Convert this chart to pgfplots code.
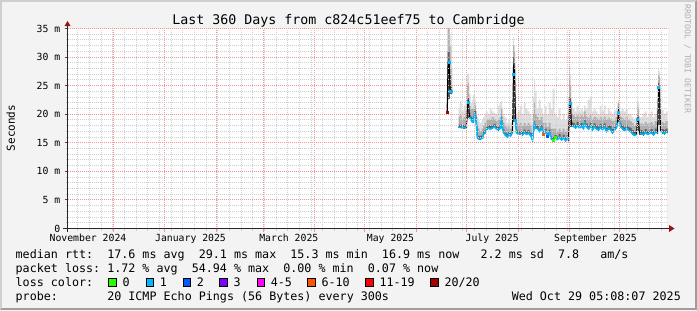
\documentclass[border=0pt]{standalone}
\usepackage{fontspec}
\setmainfont{DejaVu Sans Mono}
\usepackage{pgfplots}
\pgfplotsset{compat=1.18}
\usepackage{pgfplotstable}

\definecolor{shadeA}{RGB}{207,207,207}
\definecolor{shadeB}{RGB}{158,158,158}
\definecolor{backc}{RGB}{243,243,243}
\definecolor{mgrid}{RGB}{240,150,150}
\definecolor{ngrid}{RGB}{208,208,208}
\definecolor{arrowc}{RGB}{150,20,20}
\definecolor{smokeL}{RGB}{222,222,222}
\definecolor{smokeM}{RGB}{175,175,175}
\definecolor{smokeD}{RGB}{95,95,95}
\definecolor{loss0}{HTML}{26FF00}
\definecolor{loss1}{HTML}{00B8FF}
\definecolor{loss2}{HTML}{0059FF}
\definecolor{loss3}{HTML}{7E00FF}
\definecolor{loss4}{HTML}{FF00FF}
\definecolor{loss6}{HTML}{FF5500}
\definecolor{loss11}{HTML}{FF0000}
\definecolor{loss20}{HTML}{A10000}
\definecolor{wmark}{RGB}{175,175,175}

\newcommand\titlefont{\fontsize{13.3bp}{15bp}\selectfont\frenchspacing}
\newcommand\legfont{\fontsize{11.7bp}{13bp}\selectfont\frenchspacing}
\newcommand\tickfont{\fontsize{9.8bp}{11bp}\selectfont\frenchspacing}
\newcommand\unitfont{\fontsize{11bp}{12bp}\selectfont\frenchspacing}
\newcommand\wmfont{\fontsize{8.2bp}{9bp}\selectfont\frenchspacing}

% days since start of graph (Nov 3 2024), median and smoke bands in ms
\pgfplotstableread{
x     med  dlo  dhi  mhi  lhi  cy
227.8 20.4 20.3 20.9 21.2 21.5 nan
228.4 29.1 22.6 31.0 35.5 36.0 nan
229.0 29.1 22.6 31.0 35.5 36.0 nan
229.6 24.1 22.6 27.0 32.0 34.0 nan
230.2 24.1 23.5 25.0 28.0 32.0 nan
230.8 24.1 23.5 25.0 28.0 32.0 nan
}\segA

\pgfplotstableread{
x     med  dlo  dhi  mhi  lhi  cy
234.6 17.7 17.4 18.2 19.5 21.0 17.7
235.8 17.7 17.4 18.2 19.8 22.4 17.7
237.0 17.6 17.3 18.1 19.2 20.5 17.6
238.2 17.6 17.3 18.1 19.5 21.5 17.6
239.4 17.7 17.4 18.3 20.5 22.4 17.7
240.0 21.5 17.5 22.5 25.0 27.0 nan
240.6 22.1 19.0 23.0 25.5 27.1 nan
241.2 19.5 19.2 20.2 21.5 23.5 19.5
242.4 18.9 18.6 19.6 21.0 22.0 18.9
243.0 18.6 18.3 19.3 21.0 22.5 18.6
243.6 18.6 18.3 19.3 21.0 23.4 18.6
244.2 20.1 18.7 20.8 22.0 23.6 20.1
244.8 20.0 18.5 20.6 21.5 22.5 20.0
245.4 18.0 17.0 18.6 19.5 20.5 18.0
246.0 15.8 15.5 16.4 18.0 19.5 15.8
246.6 15.7 15.4 16.2 17.5 19.0 15.7
247.8 15.7 15.4 16.2 17.0 18.5 15.7
249.0 15.8 15.5 16.3 17.5 19.0 15.8
249.6 16.5 16.2 17.0 18.0 19.5 16.5
250.8 16.8 16.5 17.3 18.5 20.0 16.8
251.4 17.3 17.0 17.8 19.0 20.5 17.3
252.6 17.6 17.3 18.1 19.2 20.0 17.6
253.8 17.4 17.1 17.9 19.0 21.0 17.4
255.0 17.6 17.3 18.1 19.5 20.5 17.6
256.2 17.8 17.5 18.3 19.2 20.2 17.8
257.4 17.4 17.1 17.9 18.8 20.0 17.4
258.6 17.3 17.0 17.8 19.0 21.5 17.3
259.8 17.6 17.3 18.1 19.5 22.0 17.6
260.4 18.9 17.5 19.5 21.0 22.3 18.9
261.0 17.5 17.2 18.0 19.5 21.0 17.5
261.6 16.8 16.5 17.3 18.5 20.0 16.8
262.8 16.3 16.0 16.8 18.0 19.5 16.3
264.0 16.0 15.7 16.5 17.5 18.5 16.0
264.6 16.5 16.2 17.0 18.0 19.0 16.5
265.8 16.2 15.9 16.7 17.5 18.5 16.2
267.0 16.8 16.5 17.3 18.5 20.0 16.8
267.6 28.4 18.0 30.0 32.0 33.5 nan
268.2 27.8 18.5 29.0 31.0 32.0 nan
268.8 18.9 16.6 19.5 21.0 23.0 18.9
269.4 16.8 16.5 17.3 18.5 20.0 16.8
270.6 16.5 16.2 17.0 18.0 20.5 16.5
271.8 16.6 16.3 17.1 18.5 21.5 16.6
273.0 16.4 16.1 16.9 18.0 20.0 16.4
274.2 16.8 16.5 17.3 18.5 22.0 16.8
275.4 16.5 16.2 17.0 18.0 21.0 16.5
276.6 16.7 16.4 17.2 18.5 20.5 16.7
277.8 16.3 16.0 16.8 18.0 20.0 16.3
279.0 15.5 15.2 16.0 17.0 18.5 15.5
279.6 17.0 16.0 17.6 20.0 23.0 17.0
280.2 18.2 17.0 18.8 22.0 25.9 18.2
280.8 17.6 17.3 18.2 20.0 24.0 17.6
282.0 17.5 17.2 18.0 19.5 21.0 17.5
283.2 17.0 16.7 17.5 19.0 22.5 17.0
284.4 17.6 17.3 18.1 19.5 21.0 17.6
285.6 16.5 16.2 17.0 18.5 20.0 16.5
286.8 17.0 16.7 17.5 18.5 21.5 17.0
288.0 16.2 15.9 16.7 17.8 20.0 16.2
289.2 16.8 16.5 17.3 18.5 22.0 16.8
290.4 15.6 15.3 16.1 17.5 21.0 15.6
291.6 15.5 15.2 16.0 17.5 24.5 15.5
292.8 15.9 15.6 16.4 17.5 20.0 15.9
294.0 15.6 15.3 16.1 17.0 19.5 15.6
295.2 16.0 15.7 16.5 17.5 21.0 16.0
296.4 15.5 15.2 16.0 17.0 19.0 15.5
297.6 15.9 15.6 16.4 17.5 20.0 15.9
298.8 15.4 15.1 15.9 17.0 19.0 15.4
300.0 15.8 15.5 16.3 17.5 19.5 15.8
300.6 15.5 15.2 16.0 19.0 23.0 15.5
301.2 21.9 16.0 23.0 26.0 28.5 nan
301.8 22.0 17.5 23.0 25.0 27.0 nan
302.4 18.0 17.7 18.6 20.0 22.0 18.0
303.6 17.9 17.6 18.5 19.8 21.0 17.9
304.8 17.6 17.3 18.2 19.5 20.5 17.6
306.0 18.0 17.7 18.6 19.8 21.5 18.0
307.2 17.6 17.3 18.2 19.5 20.5 17.6
308.4 17.9 17.6 18.5 19.8 21.0 17.9
309.6 17.5 17.2 18.1 19.5 20.5 17.5
310.2 18.5 18.0 19.0 20.5 21.5 18.5
311.4 17.8 17.5 18.4 19.6 21.0 17.8
312.6 17.4 17.1 18.0 19.3 22.5 17.4
313.8 17.9 17.6 18.5 19.8 23.0 17.9
315.0 17.3 17.0 17.9 19.2 20.5 17.3
316.2 17.8 17.5 18.4 19.6 21.0 17.8
317.4 17.5 17.2 18.1 19.4 20.5 17.5
318.6 17.2 16.9 17.8 19.0 20.0 17.2
319.8 17.7 17.4 18.3 19.5 21.5 17.7
321.0 17.3 17.0 17.9 19.2 20.5 17.3
322.2 17.8 17.5 18.4 19.6 21.5 17.8
323.4 17.0 16.7 17.6 19.0 20.0 17.0
324.6 17.5 17.2 18.1 19.4 21.0 17.5
325.8 17.3 17.0 17.9 19.2 20.5 17.3
327.0 16.8 16.5 17.4 18.8 20.0 16.8
328.2 17.2 16.9 17.8 19.0 20.5 17.2
329.4 17.7 17.4 18.3 19.5 21.0 17.7
330.0 18.5 17.8 19.2 20.5 22.0 18.5
330.6 20.4 18.5 21.0 22.0 22.5 nan
331.2 18.8 17.9 19.4 20.5 21.5 18.8
331.8 17.8 17.5 18.4 19.6 20.5 17.8
333.0 17.5 17.2 18.1 19.4 21.0 17.5
334.2 17.1 16.8 17.7 19.0 20.5 17.1
335.4 17.6 17.3 18.2 19.5 21.0 17.6
336.6 17.2 16.9 17.8 19.0 20.0 17.2
337.8 17.0 16.7 17.6 18.8 20.0 17.0
339.0 16.6 16.3 17.2 18.5 19.5 16.6
340.2 16.3 16.0 16.9 18.0 19.0 16.3
341.4 16.5 16.2 17.1 18.2 19.5 16.5
342.0 19.2 16.5 19.8 21.5 22.5 nan
342.6 19.0 17.0 19.6 21.0 22.0 nan
343.2 16.5 16.2 17.1 18.2 19.5 16.5
344.4 16.6 16.3 17.2 18.4 19.5 16.6
345.6 16.4 16.1 17.0 18.2 20.0 16.4
346.8 16.8 16.5 17.4 18.6 20.5 16.8
348.0 16.5 16.2 17.1 18.3 19.5 16.5
349.2 16.6 16.3 17.2 18.4 20.0 16.6
350.4 16.8 16.5 17.4 18.6 20.5 16.8
351.6 16.4 16.1 17.0 18.2 19.5 16.4
352.8 16.9 16.6 17.5 18.8 20.0 16.9
354.0 16.7 16.4 17.3 18.6 21.0 16.7
354.6 24.7 17.5 25.5 27.0 28.0 nan
355.2 24.5 18.0 25.0 26.5 27.5 nan
355.8 17.0 16.7 17.6 19.0 20.5 17.0
357.0 16.8 16.5 17.4 18.6 20.8 16.8
358.2 16.6 16.3 17.2 18.4 20.0 16.6
359.4 16.9 16.6 17.5 18.8 20.5 16.9
360.0 16.9 16.6 17.5 18.8 20.5 16.9
}\segB

\begin{document}
\begin{tikzpicture}[x=1bp,y=1bp]
\useasboundingbox (0,0) rectangle (697,310);
% frame
\fill[shadeA] (0,0) rectangle (697,310);
\fill[shadeB] (0,0) -- (697,0) -- (697,310) -- (695,308) -- (695,2) -- (2,2) -- cycle;
\fill[backc] (2,2) rectangle (695,308);

\begin{axis}[
  at={(67.5bp,81.5bp)}, anchor=south west,
  scale only axis, width=600bp, height=200bp,
  xmin=0, xmax=360, ymin=0, ymax=35,
  axis background/.style={fill=white},
  axis on top,
  axis x line*=bottom, axis y line*=left,
  axis line style={draw=none},
  tick pos=left, tick align=outside,
  xtick={27.3,58.3,89.3,117.3,148.3,178.3,209.3,239.3,270.3,301.3,331.3},
  xticklabels={,,,,,,,,,,,},
  minor xtick={6.1,13.1,...,357},
  extra x ticks={12.3,73.8,132.8,193.8,254.8,316.8},
  extra x tick labels={November 2024,January 2025,March 2025,May 2025,July 2025,September 2025},
  extra x tick style={grid=none, major tick length=0bp,
     xticklabel style={font=\tickfont, anchor=base, inner sep=0pt, yshift=-13bp}},
  ytick={0,5,...,35},
  yticklabels={0,5 m,10 m,15 m,20 m,25 m,30 m,35 m},
  minor y tick num=4,
  yticklabel style={font=\tickfont, anchor=east, inner sep=0pt, xshift=-4bp},
  grid=both,
  major grid style={mgrid, line width=1bp, dash pattern=on 1bp off 1bp},
  minor grid style={ngrid, line width=1bp, dash pattern=on 1bp off 1bp},
  major tick length=3bp, minor tick length=2bp,
  major x tick style={mgrid, line width=1bp},
  minor x tick style={ngrid, line width=1bp},
  major y tick style={black!70, line width=1bp},
  minor y tick style={ngrid, line width=1bp},
  /pgf/number format/assume math mode=true,
]
% segment A smoke
\addplot[fill=smokeL, draw=none, const plot mark mid, forget plot] table[x=x,y=lhi]{\segA} \closedcycle;
\addplot[fill=smokeM, draw=none, const plot mark mid, forget plot] table[x=x,y=mhi]{\segA} \closedcycle;
\addplot[fill=smokeD, draw=none, const plot mark mid, forget plot] table[x=x,y=dhi]{\segA} \closedcycle;
\addplot[fill=white, draw=white, line width=1.2bp, const plot mark mid, forget plot] table[x=x,y=dlo]{\segA} \closedcycle;
% segment B smoke
\addplot[fill=smokeL, draw=none, const plot mark mid, forget plot] table[x=x,y=lhi]{\segB} \closedcycle;
\addplot[fill=smokeM, draw=none, const plot mark mid, forget plot] table[x=x,y=mhi]{\segB} \closedcycle;
\addplot[fill=smokeD, draw=none, const plot mark mid, forget plot] table[x=x,y=dhi]{\segB} \closedcycle;
\addplot[fill=white, draw=white, line width=1.2bp, const plot mark mid, forget plot] table[x=x,y=dlo]{\segB} \closedcycle;
% median
\addplot[black, line width=1.2bp, no marks] table[x=x,y=med]{\segA};
\addplot[black, line width=1bp, no marks] table[x=x,y=med]{\segB};
\addplot[loss1, line width=1.6bp, no marks, unbounded coords=jump] table[x=x,y=cy]{\segB};
\addplot[only marks, mark=square*, mark size=1bp, loss1, draw=none] coordinates
  {(229.0,29.1) (229.6,24.1) (230.2,24.1) (240.6,22.1) (267.6,27.0) (268.8,18.9) (301.8,22.0) (330.6,20.4) (342.0,19.2) (354.6,24.7)};
\addplot[only marks, mark=square*, mark size=1bp, loss20, draw=none] coordinates {(227.8,20.4)};
\addplot[only marks, mark=square*, mark size=1bp, loss6, draw=none] coordinates {(285.6,16.5)};
\addplot[only marks, mark=square*, mark size=1bp, loss2, draw=none] coordinates {(288.0,16.2)};
\addplot[only marks, mark=square*, mark size=1bp, loss0, draw=none] coordinates {(291.6,15.5) (292.8,15.9)};
\end{axis}

% axis lines and arrows
\draw[black!85, line width=1bp] (63,81.5) -- (670,81.5);
\draw[black!85, line width=1bp] (67.5,78) -- (67.5,285);
\fill[arrowc] (669,85) -- (674.5,81.5) -- (669,78) -- cycle;
\fill[arrowc] (64.5,284) -- (67.5,289) -- (70.5,284) -- cycle;

% title, unit, watermark
\node[anchor=base, inner sep=0pt] at (348.5,286) {\titlefont Last 360 Days from c824c51eef75 to Cambridge};
\node[rotate=90, inner sep=0pt] at (10.7,182) {\unitfont Seconds};
\node[rotate=-90, inner sep=0pt, text=wmark] at (687.5,251) {\wmfont RRDTOOL / TOBI OETIKER};

% legend
\node[anchor=base west, inner sep=0pt] at (15.5,51.7) {\legfont median rtt:~~17.6 ms avg~~29.1 ms max~~15.3 ms min~~16.9 ms now~~~2.2 ms sd~~7.8~~~am/s};
\node[anchor=base west, inner sep=0pt] at (15.5,37.7) {\legfont packet loss: 1.72 \% avg~~54.94 \% max~~0.00 \% min~~0.07 \% now};
\node[anchor=base west, inner sep=0pt] at (15.5,23.7) {\legfont loss color:};
\foreach \sx/\sc/\lab in {108.3/loss0/0, 145.7/loss1/1, 182.7/loss2/2, 219.3/loss3/3, 256.7/loss4/4-5, 307.3/loss6/6-10, 365.3/loss11/11-19, 430.3/loss20/{20/20}}{
  \filldraw[fill=\sc, draw=black, line width=1bp] (\sx+0.5,23.8) rectangle (\sx+7.9,31.2);
  \node[anchor=base west, inner sep=0pt] at (\sx+14,23.7) {\legfont \lab};
}
\node[anchor=base west, inner sep=0pt] at (15.5,9.7) {\legfont probe:~~~~~~~20 ICMP Echo Pings (56 Bytes) every 300s};
\node[anchor=base east, inner sep=0pt] at (681,9.7) {\legfont Wed Oct 29 05:08:07 2025};
\end{tikzpicture}
\end{document}
